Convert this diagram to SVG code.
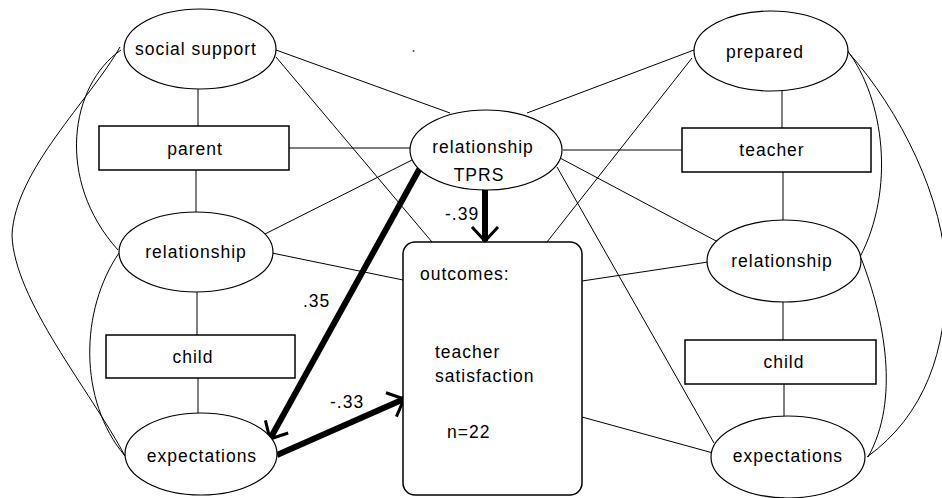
<svg xmlns="http://www.w3.org/2000/svg" width="942" height="498" viewBox="0 0 942 498">
<style>
.n{fill:#fff;stroke:#000;stroke-width:1.2}
.b{fill:#fff;stroke:#000;stroke-width:1.5}
.c{fill:none;stroke:#000;stroke-width:1}
.t{font-family:"Liberation Sans",Arial,sans-serif;font-size:17.5px;letter-spacing:1px;fill:#000}
.m{text-anchor:middle}
.k{fill:none;stroke:#000;stroke-width:6}
</style>
<defs>
<marker id="arr" markerUnits="userSpaceOnUse" markerWidth="40" markerHeight="40" viewBox="-20 -20 40 40" refX="0" refY="0" orient="auto" overflow="visible">
<path d="M-14,-13 L0,0 L-14,13" fill="none" stroke="#000" stroke-width="3"/>
</marker>
</defs>
<g id="connectors">
<line class="c" x1="198" y1="89" x2="198" y2="126"/>
<line class="c" x1="196" y1="170" x2="196" y2="212"/>
<line class="c" x1="197" y1="292" x2="197" y2="335"/>
<line class="c" x1="198" y1="378" x2="198" y2="413"/>
<line class="c" x1="782" y1="91" x2="782" y2="128"/>
<line class="c" x1="783" y1="172" x2="783" y2="221"/>
<line class="c" x1="783" y1="302" x2="783" y2="340"/>
<line class="c" x1="784" y1="384" x2="784" y2="416"/>
<line class="c" x1="276" y1="50" x2="450" y2="113"/>
<line class="c" x1="276" y1="57" x2="432" y2="242"/>
<line class="c" x1="289" y1="148" x2="410" y2="148"/>
<line class="c" x1="263" y1="235" x2="412" y2="160"/>
<line class="c" x1="272" y1="253" x2="403" y2="280"/>
<line class="c" x1="563" y1="150" x2="682" y2="150"/>
<line class="c" x1="527" y1="113" x2="694" y2="50"/>
<line class="c" x1="692" y1="58" x2="547" y2="242"/>
<line class="c" x1="560" y1="158" x2="718" y2="242"/>
<line class="c" x1="557" y1="167" x2="714" y2="443"/>
<line class="c" x1="582" y1="281" x2="708" y2="262"/>
<line class="c" x1="582" y1="417" x2="713" y2="453"/>
<path class="c" d="M120,47 C90,100 15,170 12,235 C14,300 90,390 125,456"/>
<path class="c" d="M121,50 C70,85 55,180 118,250"/>
<path class="c" d="M119,253 C80,310 78,400 125,456"/>
<path class="c" d="M847,50 C885,100 895,190 860,257"/>
<path class="c" d="M861,258 C885,320 900,400 868,457"/>
<path class="c" d="M848,52 C900,110 945,200 946,275 C947,350 925,415 867,457"/>
<line class="k" x1="420" y1="168" x2="270" y2="439" marker-end="url(#arr)"/>
<line class="k" x1="277" y1="455" x2="404" y2="399" marker-end="url(#arr)"/>
<line class="k" x1="485" y1="185" x2="485" y2="241" marker-end="url(#arr)"/>
<circle cx="413.5" cy="51" r="1" fill="#555"/>
</g>
<g id="social-support"><ellipse class="n" cx="200" cy="49" rx="76" ry="40"/><text class="t m" x="196" y="55">social support</text></g>
<g id="parent"><rect class="b" x="99" y="126" width="190" height="44"/><text class="t m" x="195" y="155">parent</text></g>
<g id="relationship-left"><ellipse class="n" cx="196" cy="252" rx="77" ry="40"/><text class="t m" x="196" y="258">relationship</text></g>
<g id="child-left"><rect class="b" x="106" y="335" width="189" height="43"/><text class="t m" x="193" y="363">child</text></g>
<g id="expectations-left"><ellipse class="n" cx="201" cy="454" rx="76" ry="41"/><text class="t m" x="202" y="462">expectations</text></g>
<g id="prepared"><ellipse class="n" cx="771" cy="51" rx="77" ry="40"/><text class="t m" x="765" y="58">prepared</text></g>
<g id="teacher"><rect class="b" x="682" y="128" width="189" height="44"/><text class="t m" x="772" y="156">teacher</text></g>
<g id="relationship-right"><ellipse class="n" cx="784" cy="261" rx="77" ry="41"/><text class="t m" x="782" y="267">relationship</text></g>
<g id="child-right"><rect class="b" x="685" y="340" width="191" height="44"/><text class="t m" x="784" y="368">child</text></g>
<g id="expectations-right"><ellipse class="n" cx="788" cy="457" rx="77" ry="41"/><text class="t m" x="788" y="462">expectations</text></g>
<g id="relationship-tprs"><ellipse class="n" cx="486" cy="150" rx="76" ry="40"/><text class="t m" x="483" y="153">relationship</text><text class="t m" x="479" y="181">TPRS</text></g>
<g id="outcomes"><rect class="b" x="403" y="242" width="179" height="253" rx="12" ry="12"/><text class="t" x="420" y="280">outcomes:</text><text class="t" x="435" y="358">teacher</text><text class="t" x="435" y="382">satisfaction</text><text class="t" x="447" y="438">n=22</text></g>
<g id="labels"><text class="t" x="445" y="220">-.39</text><text class="t" x="303" y="307">.35</text><text class="t" x="330" y="408">-.33</text></g>
</svg>
